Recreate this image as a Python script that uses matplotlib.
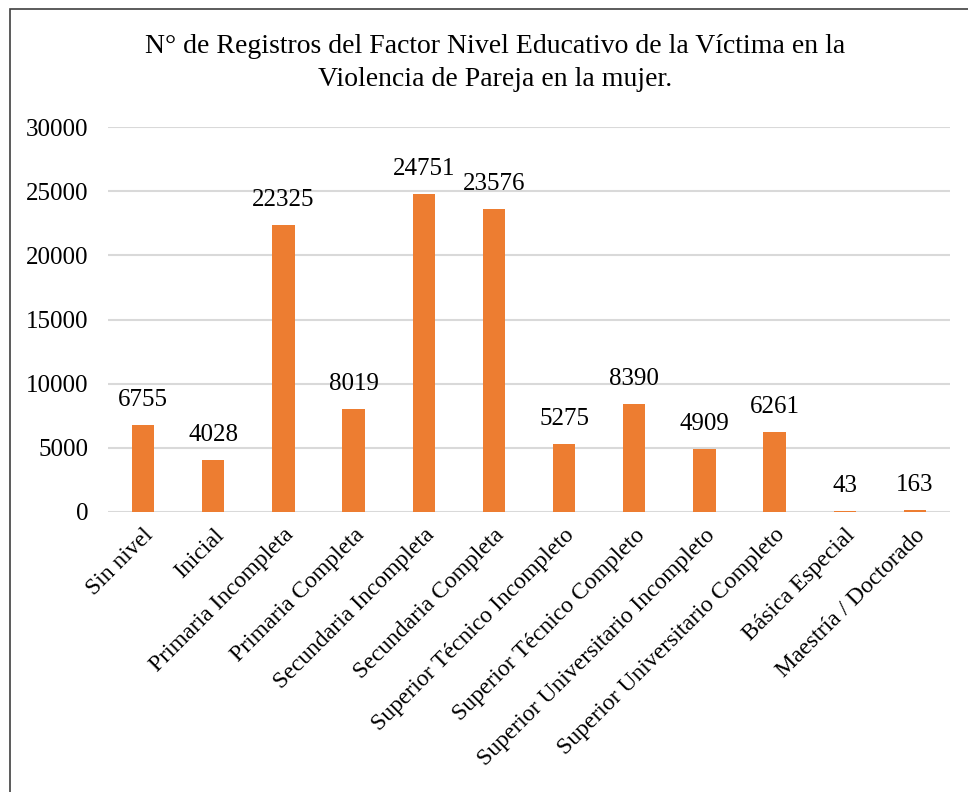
import matplotlib.pyplot as plt
from matplotlib.patches import Rectangle

# Datos del gráfico
categorias = ["Sin nivel", "Inicial", "Primaria Incompleta", "Primaria Completa",
              "Secundaria Incompleta", "Secundaria Completa",
              "Superior Técnico Incompleto", "Superior Técnico Completo",
              "Superior Universitario Incompleto", "Superior Universitario Completo",
              "Básica Especial", "Maestría / Doctorado"]
registros = [6755, 4028, 22325, 8019, 24751, 23576, 5275, 8390, 4909, 6261, 43, 163]
yticks = [0, 5000, 10000, 15000, 20000, 25000, 30000]

plt.rcParams['font.family'] = ['Liberation Serif', 'DejaVu Serif']

W, H = 968, 792
fig = plt.figure(figsize=(W / 100, H / 100), dpi=100)
ax = fig.add_axes([108 / W, 1 - 512 / H, (950 - 108) / W, (512 - 127) / H])

# Marco exterior
fig.patches.append(Rectangle((10 / W, -0.1), 1.5, 1 - 9 / H + 0.1,
                             transform=fig.transFigure, fill=False,
                             edgecolor='#404040', linewidth=1.2))

x = range(len(categorias))
bars = ax.bar(x, registros, width=0.32, color='#ED7D31', zorder=3)

for b, v in zip(bars, registros):
    ax.text(b.get_x() + b.get_width() / 2, v + 1100, str(v),
            ha='center', va='bottom', fontsize=18)

ax.set_ylim(0, 30000)
ax.set_xlim(-0.5, len(categorias) - 0.5)
ax.set_yticks(yticks)
ax.set_yticklabels([str(t) for t in yticks], fontsize=18)
ax.set_xticks(list(x))
ax.set_xticklabels(categorias, rotation=45, ha='right', rotation_mode='anchor', fontsize=17)
ax.tick_params(length=0, pad=14)
ax.tick_params(axis='x', pad=9)
ax.yaxis.grid(True, color='#D9D9D9', linewidth=1.5, zorder=0)
for s in ax.spines.values():
    s.set_visible(False)

fig.text(495 / W, 1 - 63 / H,
         "N° de Registros del Factor Nivel Educativo de la Víctima en la\nViolencia de Pareja en la mujer.",
         ha='center', va='center', fontsize=20, linespacing=1.4)

fig.savefig("out.png", dpi=100)
